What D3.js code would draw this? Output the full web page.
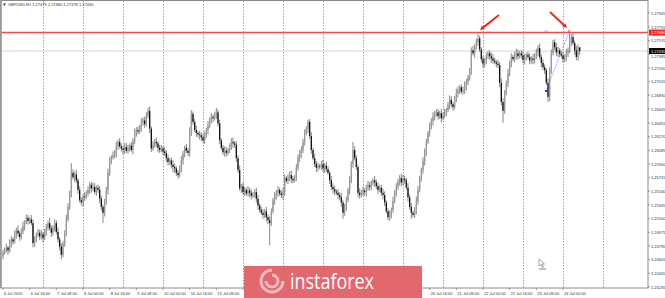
<!DOCTYPE html>
<html><head><meta charset="utf-8">
<script src="https://cdn.jsdelivr.net/npm/d3@7"></script>
<style>body{margin:0;background:#fff}svg{display:block}</style>
</head><body>
<script>
// GBPUSD H1, 6 Jul - 24 Jul 2020. prices kept as pips above 1.2400
const symbol = "GBPUSD,H1";
const headerOHLC = ["1.27479", "1.27480", "1.27378", "1.27430"];
const basePrice = 1.2400;
const firstOpen = 66;
const closes = [
  70,74,77,73,82,88,85,95,100,96,91,99,106,112,117,113,115,110,83,88,
  94,97,92,95,90,98,104,110,103,97,104,110,98,88,78,67,82,97,115,132,
  150,178,172,176,168,155,141,138,146,145,150,155,162,157,159,152,158,155,143,132,
  124,138,155,178,195,199,202,205,214,220,214,211,209,213,208,212,215,209,221,232,
  236,234,240,246,249,244,256,262,238,211,216,220,218,212,209,211,207,205,198,193,
  195,189,186,184,178,175,183,195,204,212,208,205,234,258,247,236,232,230,229,226,
  222,229,236,242,249,254,252,257,260,245,222,212,206,208,205,209,214,220,218,216,
  198,182,157,160,152,155,150,154,151,147,149,152,143,134,128,124,121,126,118,114,
  110,126,141,146,151,155,150,148,152,171,167,172,175,170,168,172,185,199,203,209,
  220,232,238,247,228,209,198,190,185,187,186,190,184,188,183,178,168,159,156,153,
  151,148,145,138,124,132,141,155,168,190,209,198,186,151,148,151,154,152,158,161,
  159,164,168,165,160,155,158,151,148,138,126,118,122,128,140,151,159,167,171,165,
  170,168,158,145,132,124,121,128,140,155,170,182,194,205,220,232,241,248,254,257,
  260,255,259,252,256,260,263,270,277,271,267,278,286,290,294,288,290,296,301,308,
  315,344,340,349,355,360,345,332,326,328,336,340,336,333,330,328,326,324,300,274,
  262,286,300,313,326,335,332,338,340,336,340,337,331,334,338,335,330,333,331,336,
  341,347,335,327,321,317,300,281,317,340,355,348,341,344,339,337,332,335,340,344,
  355,362,354,344,335,348,343
];
const upWick = [
  4,3,5,2,6,4,3,5,4,7,3,4,6,2,5,4,3,6,5,4,
  3,5,4,6,3,4,5,3,7,4,3,5,4,6,3,5,4,3,6,5,
  4,13,5,4,6,3,5,4,3,6,4,5,3,4,6,5,3,4,5,4,
  3,5,4,6,4,3,5,4,6,3,5,4,3,5,6,4,3,5,4,6,
  4,5,3,6,4,5,4,4,6,3,5,4,6,3,4,5,3,6,4,5,
  3,4,6,5,3,4,5,6,4,3,5,4,6,5,3,4,6,3,5,4,
  4,5,3,6,4,5,3,4,6,4,5,3,4,6,5,3,4,5,6,3,
  5,4,6,3,5,4,3,6,4,5,3,4,6,5,3,4,5,3,6,4,
  5,4,3,6,4,5,3,4,6,5,3,4,5,6,4,3,5,4,6,5,
  4,5,3,3,4,5,3,6,4,5,3,4,6,3,5,4,3,6,5,4,
  3,5,4,6,3,4,5,3,6,4,11,5,4,3,6,4,5,3,4,6,
  5,4,3,6,4,5,3,4,6,5,3,4,5,3,6,4,5,3,4,6,
  5,4,3,6,4,5,3,4,6,5,4,3,5,6,4,3,5,4,6,5,
  4,5,3,6,4,5,3,4,6,5,3,4,6,5,3,4,5,6,4,3,
  5,4,6,3,5,7,4,3,4,6,5,3,4,5,6,4,3,5,4,6,
  5,4,3,6,4,5,3,4,6,5,3,4,6,5,3,4,5,3,6,4,
  5,4,6,3,5,4,3,6,4,5,3,4,6,5,3,4,5,3,6,4,
  16,4,5,3,6,4,0
];
const dnWick = [
  5,3,4,6,3,5,4,3,6,4,5,3,4,6,3,5,4,3,6,5,
  4,3,5,4,6,3,5,4,3,6,4,5,3,4,5,6,3,4,5,3,
  4,5,3,6,4,5,3,4,6,5,3,4,5,6,4,3,5,4,6,5,
  14,5,3,6,4,5,3,4,6,5,3,4,6,5,3,4,5,3,6,4,
  5,4,3,6,4,5,3,4,6,5,3,4,5,6,4,3,5,4,6,5,
  4,5,7,6,4,5,3,4,6,5,3,4,5,6,4,3,5,4,6,5,
  3,5,4,6,3,4,5,3,6,4,5,3,4,6,5,3,4,5,6,4,
  5,4,3,6,4,5,3,4,6,5,3,4,5,6,4,3,5,4,6,5,
  30,4,3,6,4,5,3,4,6,5,3,4,5,6,4,3,5,4,6,5,
  4,5,3,6,4,5,3,4,6,5,3,4,5,6,4,3,5,4,6,5,
  3,5,4,6,8,4,5,3,6,4,5,3,4,6,5,3,4,5,6,4,
  5,4,3,6,4,5,3,4,6,5,3,4,5,6,4,3,5,4,6,5,
  4,5,3,6,4,8,3,4,6,5,3,4,5,6,4,3,5,4,6,5,
  3,5,4,6,3,4,5,3,6,4,5,3,4,6,5,3,4,5,6,4,
  5,4,3,6,4,5,3,4,6,5,3,4,5,6,4,3,5,4,6,5,
  16,4,3,6,4,5,3,4,6,5,3,4,5,6,4,3,5,4,6,5,
  4,5,3,6,4,5,3,7,6,5,3,4,5,6,4,3,5,4,6,5,
  4,5,3,6,4,5,5
];
const priceTicks = ["1.27945","1.27755","1.27570","1.27385","1.27200","1.27015","1.26830",
  "1.26645","1.26455","1.26270","1.26085","1.25900","1.25715","1.25530","1.25345","1.25160",
  "1.24975","1.24790","1.24605","1.24420","1.24235"];
// one label every 16 bars
const timeLabels = ["6 Jul 2020","6 Jul 16:00","7 Jul 08:00","8 Jul 00:00","8 Jul 16:00",
  "9 Jul 08:00","10 Jul 00:00","10 Jul 16:00","13 Jul 08:00","14 Jul 00:00","14 Jul 16:00",
  "15 Jul 08:00","16 Jul 00:00","16 Jul 16:00","17 Jul 08:00","20 Jul 00:00","20 Jul 16:00",
  "21 Jul 08:00","22 Jul 00:00","22 Jul 16:00","23 Jul 08:00","24 Jul 00:00"];
const levelPrice = 1.27680;
const lastPrice = 1.27430;

const W = 665, H = 298;
const plotR = 648, plotB = 288;
const logoBox = { x: 244, y: 266, w: 178, h: 32 };

const svg = d3.select("body").append("svg").attr("width", W).attr("height", H)
  .style("font-family", "'Liberation Sans', Arial, sans-serif");

const x = d3.scaleLinear().domain([0, 336]).range([3, 563]);
const y = d3.scaleLinear().domain([1.24235, 1.27945]).range([287, 13]);
const px = p => y(basePrice + p / 10000);

// candles
const bars = closes.map((c, i) => {
  const o = i === 0 ? firstOpen : closes[i - 1];
  return { i, o, c, h: Math.max(o, c) + upWick[i], l: Math.min(o, c) - dnWick[i] };
});

// vertical dotted grid every 24 bars
svg.append("g").selectAll("line")
  .data(d3.range(24, 361, 24))
  .join("line")
  .attr("x1", d => Math.round(x(d)) + 0.5).attr("x2", d => Math.round(x(d)) + 0.5)
  .attr("y1", 1).attr("y2", plotB)
  .attr("stroke", "#888").attr("stroke-width", 0.8).attr("stroke-dasharray", "1.5,1.5");

// current price line
svg.append("line").attr("x1", 1).attr("x2", plotR)
  .attr("y1", y(lastPrice)).attr("y2", y(lastPrice))
  .attr("stroke", "#d4d4d4").attr("stroke-width", 1);

const cg = svg.append("g");
cg.selectAll("line").data(bars).join("line")
  .attr("x1", d => x(d.i)).attr("x2", d => x(d.i))
  .attr("y1", d => px(d.h)).attr("y2", d => px(d.l))
  .attr("stroke", "#555").attr("stroke-width", 0.7);
cg.selectAll("rect").data(bars).join("rect")
  .attr("x", d => x(d.i) - 0.65).attr("width", 1.3)
  .attr("y", d => px(Math.max(d.o, d.c)))
  .attr("height", d => Math.max(0.6, Math.abs(px(d.o) - px(d.c))))
  .attr("fill", d => d.c >= d.o ? "#999" : "#111");

// red level
svg.append("line").attr("x1", 0).attr("x2", plotR)
  .attr("y1", y(levelPrice)).attr("y2", y(levelPrice))
  .attr("stroke", "#f24a4a").attr("stroke-width", 1.4);

// frame
svg.append("rect").attr("x", 1).attr("y", 0.5).attr("width", plotR - 1).attr("height", plotB - 0.5)
  .attr("fill", "none").attr("stroke", "#8a8a8a").attr("stroke-width", 1);
svg.append("line").attr("x1", 0.8).attr("x2", 0.8).attr("y1", 0).attr("y2", plotB)
  .attr("stroke", "#999").attr("stroke-width", 1.6);

// right axis; a label sitting under a price badge is pushed just below it
const badgeYs = [y(levelPrice), y(lastPrice)];
const labelY = v => {
  const yy = y(v);
  const b = badgeYs.find(by => Math.abs(by - yy) < 5.5);
  return b === undefined ? yy + 1.5 : (yy > b ? b + 7.2 : b - 3.6);
};
const ya = svg.append("g");
ya.selectAll("line").data(priceTicks).join("line")
  .attr("x1", plotR).attr("x2", plotR + 2)
  .attr("y1", d => y(+d)).attr("y2", d => y(+d)).attr("stroke", "#666").attr("stroke-width", 0.6);
ya.selectAll("text").data(priceTicks).join("text")
  .attr("x", plotR + 3).attr("y", d => labelY(+d))
  .attr("font-size", 4).attr("fill", "#333").text(d => d);

function priceBadge(v, bg) {
  const yy = y(v);
  svg.append("rect").attr("x", plotR + 1).attr("y", yy - 3).attr("width", W - plotR - 1).attr("height", 6)
    .attr("fill", bg);
  svg.append("text").attr("x", plotR + 3).attr("y", yy + 1.5)
    .attr("font-size", 4).attr("fill", "#fff").text(v.toFixed(5));
}
priceBadge(levelPrice, "#ff1f1f");
priceBadge(lastPrice, "#000");

// bottom axis; labels hidden behind the logo are not drawn
const xLab = timeLabels.map((t, k) => ({ t, k }))
  .filter(d => { const lx = x(d.k * 16); return lx + 21 < logoBox.x || lx > logoBox.x + logoBox.w; });
const xa = svg.append("g");
xa.selectAll("line").data(timeLabels).join("line")
  .attr("x1", (d, k) => x(k * 16)).attr("x2", (d, k) => x(k * 16))
  .attr("y1", plotB).attr("y2", plotB + 2).attr("stroke", "#666").attr("stroke-width", 0.6);
xa.selectAll("text").data(xLab).join("text")
  .attr("x", d => x(d.k * 16) + 1).attr("y", 295)
  .attr("font-size", 4).attr("fill", "#333").text(d => d.t);

// header
svg.append("path").attr("d", "M3,3.5 L6,3.5 L4.5,6 Z").attr("fill", "#333");
svg.append("text").attr("x", 8).attr("y", 6.2).attr("font-size", 4).attr("fill", "#333")
  .text(symbol + "  " + headerOHLC.join(" "));

// annotations
const arrow = (x1, y1, x2, y2) => {
  const a = Math.atan2(y2 - y1, x2 - x1), L = 5, w = 0.5;
  svg.append("line").attr("x1", x1).attr("y1", y1)
    .attr("x2", x2 - Math.cos(a) * 3).attr("y2", y2 - Math.sin(a) * 3)
    .attr("stroke", "#ee2a24").attr("stroke-width", 2);
  svg.append("path").attr("fill", "#ee2a24").attr("d",
    `M${x2},${y2} L${x2 - L * Math.cos(a - w)},${y2 - L * Math.sin(a - w)} L${x2 - L * Math.cos(a + w)},${y2 - L * Math.sin(a + w)} Z`);
};
arrow(499, 15, 480, 30);
arrow(550, 12, 567, 28);

svg.append("line").attr("x1", 546).attr("y1", 91).attr("x2", 569).attr("y2", 32)
  .attr("stroke", "#5566ff").attr("stroke-width", 0.8).attr("stroke-dasharray", "1,1");
svg.append("rect").attr("x", 545).attr("y", 90).attr("width", 2).attr("height", 2).attr("fill", "#2233ee");
svg.append("rect").attr("x", 568).attr("y", 30).attr("width", 2).attr("height", 2).attr("fill", "#f0a030");
svg.append("line").attr("x1", 544).attr("x2", 548).attr("y1", 31).attr("y2", 31)
  .attr("stroke", "#99a0ff").attr("stroke-width", 0.8);

// cursor
svg.append("path").attr("d", "M539,259 L539,266 L541,264.5 L542.5,267.5 L543.5,267 L542,264 L544.5,264 Z")
  .attr("fill", "#fff").attr("stroke", "#555").attr("stroke-width", 0.5);
svg.append("line").attr("x1", 539).attr("x2", 546).attr("y1", 269).attr("y2", 269)
  .attr("stroke", "#333").attr("stroke-width", 0.6);

// logo
const logo = svg.append("g");
logo.append("rect").attr("x", logoBox.x).attr("y", logoBox.y).attr("width", logoBox.w).attr("height", logoBox.h)
  .attr("fill", "#e2686d");
logo.append("path").attr("d", "M272,270 a11,11 0 1,0 11,11 M272,275 a6,6 0 1,1 -6,6")
  .attr("fill", "none").attr("stroke", "#fff").attr("stroke-width", 3).attr("opacity", 0.55);
logo.append("text").attr("x", 290).attr("y", 289).attr("font-size", 21)
  .attr("font-family", "'Open Sans', sans-serif").attr("fill", "#fff")
  .attr("textLength", 84).attr("lengthAdjust", "spacingAndGlyphs").text("instaforex");
</script>
</body></html>
